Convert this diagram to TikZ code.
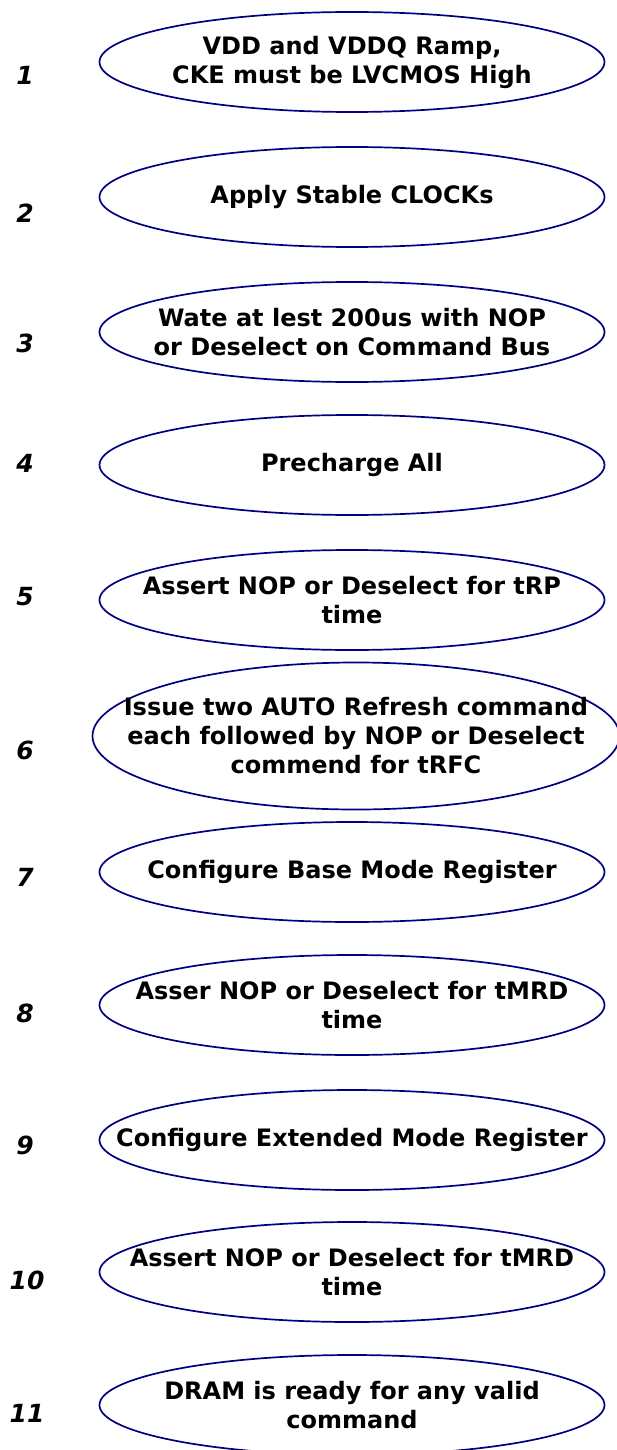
\documentclass[tikz,border=0pt]{standalone}
\usepackage{fontspec}
\setmainfont{DejaVu Sans}
\usetikzlibrary{positioning,shapes.geometric}
\usepackage{xcolor}
\definecolor{stepblue}{RGB}{0,0,128}

\begin{document}
\begin{tikzpicture}[
    x=1pt,y=-1pt,
    stepbox/.style={ellipse,draw=stepblue,line width=1.7pt,minimum width=505pt,minimum height=100pt,inner sep=0pt},
    steptext/.style={align=center,font=\fontsize{24}{29}\selectfont\bfseries},
    num/.style={font=\fontsize{25}{25}\selectfont\bfseries\itshape},
]
\useasboundingbox (0,0) rectangle (616,1450);
% Ellipses, one per init step
\node[stepbox] (s1)  at (352,62)   {};
\node[stepbox] (s2)  at (352,197)  {};
\node[stepbox] (s3)  at (352,332)  {};
\node[stepbox] (s4)  at (352,465)  {};
\node[stepbox] (s5)  at (352,600)  {};
\node[stepbox,minimum width=527pt,minimum height=147pt] (s6) at (356,736) {};
\node[stepbox] (s7)  at (352,872)  {};
\node[stepbox] (s8)  at (352,1005) {};
\node[stepbox] (s9)  at (352,1140) {};
\node[stepbox] (s10) at (352,1272) {};
\node[stepbox] (s11) at (352,1405) {};
% Texts centred in the ellipses
\node[steptext] (t1)  at (s1)  {VDD and VDDQ Ramp,\\CKE must be LVCMOS High};
\node[steptext] (t2)  at (s2)  {Apply Stable CLOCKs};
\node[steptext] (t3)  at (s3)  {Wate at lest 200us with NOP\\or Deselect on Command Bus};
\node[steptext] (t4)  at (s4)  {Precharge All};
\node[steptext] (t5)  at (s5)  {Assert NOP or Deselect for tRP\\time};
\node[steptext] (t6)  at (s6)  {Issue two AUTO Refresh command\\each followed by NOP or Deselect\\commend for tRFC};
\node[steptext] (t7)  at (s7)  {Configure Base Mode Register};
\node[steptext] (t8)  at (s8)  {Asser NOP or Deselect for tMRD\\time};
\node[steptext] (t9)  at (s9)  {Configure Extended Mode Register};
\node[steptext] (t10) at (s10) {Assert NOP or Deselect for tMRD\\time};
\node[steptext] (t11) at (s11) {DRAM is ready for any valid\\command};
% Step numbers on the left
\node[num] (n1)  at (25,75)   {1};
\node[num] (n2)  at (25,213)  {2};
\node[num] (n3)  at (25,343)  {3};
\node[num] (n4)  at (25,463)  {4};
\node[num] (n5)  at (25,597)  {5};
\node[num] (n6)  at (25,750)  {6};
\node[num] (n7)  at (25,877)  {7};
\node[num] (n8)  at (25,1013) {8};
\node[num] (n9)  at (25,1145) {9};
\node[num] (n10) at (27,1280) {10};
\node[num] (n11) at (27,1413) {11};
\end{tikzpicture}
\end{document}
